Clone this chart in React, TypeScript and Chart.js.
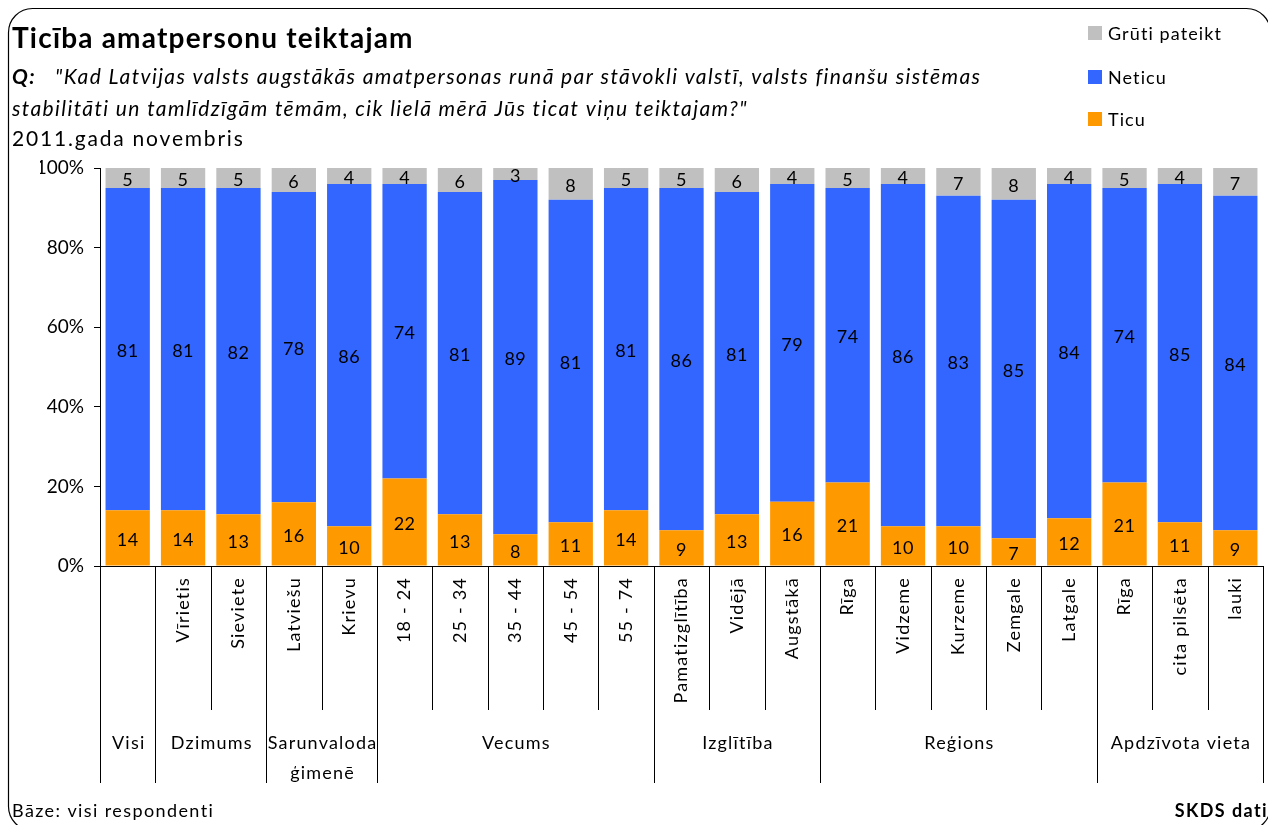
import React, { useEffect, useRef } from "react";
import { Chart, registerables } from "chart.js";
Chart.register(...registerables);

const subLabels = ["", "Vīrietis", "Sieviete", "Latviešu", "Krievu", "18 - 24", "25 - 34", "35 - 44", "45 - 54", "55 - 74", "Pamatizglītība", "Vidējā", "Augstākā", "Rīga", "Vidzeme", "Kurzeme", "Zemgale", "Latgale", "Rīga", "cita pilsēta", "lauki"];
const groupLabels = [["Visi"], ["Dzimums"], ["Sarunvaloda", "ģimenē"], ["Vecums"], ["Izglītība"], ["Reģions"], ["Apdzīvota vieta"]];
const groupSizes = [1, 2, 2, 5, 3, 5, 3];

const ticu = [14, 14, 13, 16, 10, 22, 13, 8, 11, 14, 9, 13, 16, 21, 10, 10, 7, 12, 21, 11, 9];
const neticu = [81, 81, 82, 78, 86, 74, 81, 89, 81, 81, 86, 81, 79, 74, 86, 83, 85, 84, 74, 85, 84];
const gruti = [5, 5, 5, 6, 4, 4, 6, 3, 8, 5, 5, 6, 4, 5, 4, 7, 8, 4, 5, 4, 7];
const yTicks = [0, 20, 40, 60, 80, 100];

const seriesNames = ["Ticu", "Neticu", "Grūti pateikt"];
const seriesColors = ["#FF9900", "#3366FF", "#C0C0C0"];

const FONT = "Lato, 'Open Sans', sans-serif";

const totals = ticu.map((v, i) => v + neticu[i] + gruti[i]);
const toPct = (arr: number[]) => arr.map((v, i) => (v / totals[i]) * 100);

const ls = (ctx: any, px: number) => { ctx.letterSpacing = px + "px"; };

const decorPlugin = {
  id: "decor",
  afterDraw(chart: any) {
    const ctx = chart.ctx as CanvasRenderingContext2D;
    const xs = chart.scales.x;
    const area = chart.chartArea;
    ctx.save();
    ctx.fillStyle = "#000";
    ctx.strokeStyle = "#000";

    // outer rounded border
    ctx.lineWidth = 1.2;
    ctx.beginPath();
    (ctx as any).roundRect(8.5, 8.5, 1262, 822, 24);
    ctx.stroke();

    // header
    ctx.textAlign = "left";
    ctx.textBaseline = "alphabetic";
    ctx.font = `bold 28px ${FONT}`;
    ls(ctx, 1.2);
    ctx.fillText("Ticība amatpersonu teiktajam", 12, 48);
    ctx.font = `italic bold 21px ${FONT}`;
    ls(ctx, 1.4);
    ctx.fillText("Q:", 12, 84);
    ctx.font = `italic 21px ${FONT}`;
    ctx.fillText("\"Kad Latvijas valsts augstākās amatpersonas runā par stāvokli valstī, valsts finanšu sistēmas", 55, 84);
    ctx.fillText("stabilitāti un tamlīdzīgām tēmām, cik lielā mērā Jūs ticat viņu teiktajam?\"", 12, 116);
    ctx.font = `21px ${FONT}`;
    ls(ctx, 1.8);
    ctx.fillText("2011.gada novembris", 12, 146);

    // legend
    const legendOrder = [2, 1, 0];
    const legendY = [33, 77, 119];
    ctx.font = `18px ${FONT}`;
    ls(ctx, 1.1);
    ctx.textBaseline = "middle";
    legendOrder.forEach((si, k) => {
      ctx.fillStyle = seriesColors[si];
      ctx.fillRect(1088, legendY[k] - 7, 14, 14);
      ctx.fillStyle = "#000";
      ctx.fillText(seriesNames[si], 1108, legendY[k] + 1);
    });

    // data labels
    ls(ctx, 0.5);
    ctx.textAlign = "center";
    ctx.textBaseline = "middle";
    ctx.font = `18px ${FONT}`;
    const raws = [ticu, neticu, gruti];
    chart.data.datasets.forEach((ds: any, di: number) => {
      const meta = chart.getDatasetMeta(di);
      meta.data.forEach((el: any, i: number) => {
        const cy = (el.y + el.base) / 2 + 2;
        ctx.fillText(String(raws[di][i]), el.x, cy);
      });
    });

    // category dividers
    const n = subLabels.length;
    const half = (xs.getPixelForValue(1) - xs.getPixelForValue(0)) / 2;
    const edge = (i: number) => xs.getPixelForValue(i) - half;
    const groupStarts: number[] = [];
    let acc = 0;
    groupSizes.forEach((s) => { groupStarts.push(acc); acc += s; });
    const isGroupEdge = (i: number) => i === 0 || i === n || groupStarts.includes(i);
    ctx.lineWidth = 1;
    for (let i = 0; i <= n; i++) {
      const x = Math.round(i === n ? area.right : edge(i)) + 0.5;
      const bottom = isGroupEdge(i) ? 783 : 710;
      ctx.beginPath();
      ctx.moveTo(x, area.bottom);
      ctx.lineTo(x, bottom);
      ctx.stroke();
    }

    // rotated sub labels
    ctx.font = `18px ${FONT}`;
    ls(ctx, 1.2);
    ctx.textAlign = "right";
    ctx.textBaseline = "middle";
    subLabels.forEach((lab, i) => {
      if (!lab) return;
      ctx.save();
      ctx.translate(xs.getPixelForValue(i), area.bottom + 11);
      ctx.rotate(-Math.PI / 2);
      ctx.fillText(lab, 0, 0);
      ctx.restore();
    });

    // group labels
    ctx.font = `18px ${FONT}`;
    ls(ctx, 1.2);
    ctx.textAlign = "center";
    groupLabels.forEach((lines, g) => {
      const s = groupStarts[g];
      const e = s + groupSizes[g];
      const x0 = edge(s);
      const x1 = e === n ? area.right : edge(e);
      lines.forEach((t, li) => {
        ctx.fillText(t, (x0 + x1) / 2 + 1, 743 + li * 30);
      });
    });

    // footer
    ctx.textAlign = "left";
    ctx.font = `18px ${FONT}`;
    ls(ctx, 1.4);
    ctx.fillText("Bāze: visi respondenti", 12, 811);
    ctx.textAlign = "right";
    ctx.font = `bold 18px ${FONT}`;
    ctx.fillText("SKDS dati", 1268, 811);
    ctx.restore();
  },
};

export default function App() {
  const ref = useRef<HTMLCanvasElement>(null);
  useEffect(() => {
    document.body.style.margin = "0";
    const chart = new Chart(ref.current as HTMLCanvasElement, {
      type: "bar",
      data: {
        labels: subLabels.map((l) => l || "Visi"),
        datasets: [ticu, neticu, gruti].map((arr, i) => ({
          label: seriesNames[i],
          data: toPct(arr),
          backgroundColor: seriesColors[i],
          barPercentage: 0.8,
          categoryPercentage: 1,
        })),
      },
      options: {
        responsive: false,
        animation: false,
        layout: { padding: { left: 40, right: 5, top: 168, bottom: 0 } },
        plugins: { legend: { display: false }, tooltip: { enabled: false }, title: { display: false } },
        scales: {
          x: {
            stacked: true,
            grid: { display: false },
            ticks: { display: false },
            border: { color: "#000", width: 1 },
            afterFit: (s: any) => { s.height = 259; },
          },
          y: {
            stacked: true,
            min: 0,
            max: 100,
            afterBuildTicks: (s: any) => { s.ticks = yTicks.map((v) => ({ value: v })); },
            ticks: { color: "#000", font: { family: FONT, size: 19 }, padding: 10, callback: (v: any) => v + "%" },
            grid: { drawOnChartArea: false, drawTicks: true, tickLength: 6, color: "#000" },
            border: { color: "#000", width: 1 },
            afterFit: (s: any) => { s.width = 60; },
          },
        },
      },
      plugins: [decorPlugin],
    });
    return () => chart.destroy();
  }, []);
  return (
    <div style={{ position: "absolute", left: 0, top: 0, width: 1268, height: 825, background: "#fff" }}>
      <canvas ref={ref} width={1268} height={825} style={{ display: "block", width: 1268, height: 825 }} />
    </div>
  );
}
